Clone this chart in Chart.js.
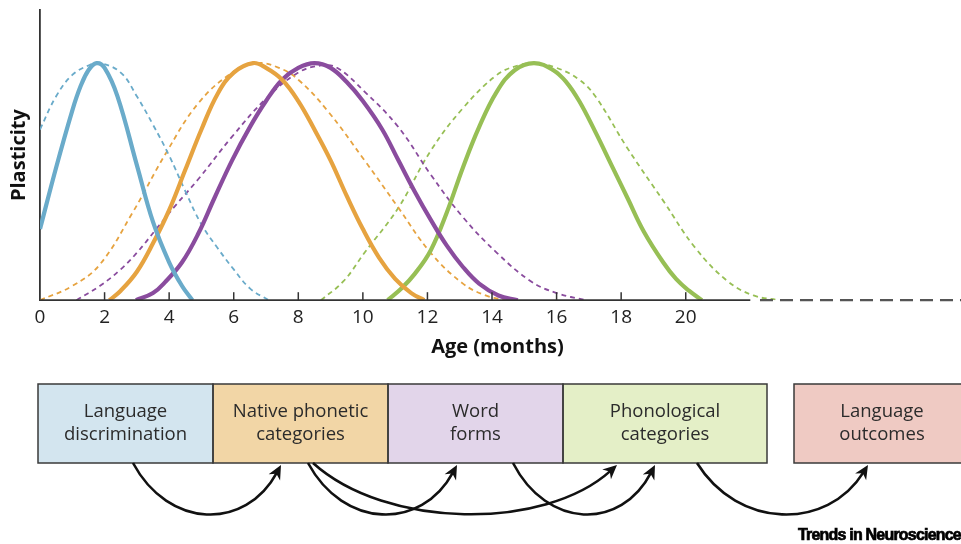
<!DOCTYPE html>
<html lang="en">
<head>
<meta charset="UTF-8" />
<title>Plasticity across infancy</title>
<style>
  html, body { margin: 0; padding: 0; background: #fff; }
  #wrap { width: 961px; height: 544px; }
</style>
</head>
<body>
<div id="wrap"><canvas id="plasticity" width="961" height="544"></canvas></div>
<script src="https://cdn.jsdelivr.net/npm/chart.js@4.4.0/dist/chart.umd.min.js"></script>
<script>
// curves: age (months) and plasticity relative to peak
const discrimSolidAge = [0, 0.5, 1, 1.25, 1.5, 1.75, 2, 2.4, 3, 3.5, 4, 4.4, 4.72];
const discrimSolidVal = [0.30, 0.56, 0.80, 0.90, 0.97, 1.0, 0.98, 0.86, 0.57, 0.33, 0.16, 0.06, 0];
const discrimDashAge = [0, 0.5, 1, 1.5, 1.85, 2.5, 3, 3.5, 4, 4.5, 5, 5.5, 6, 6.5, 7.08];
const discrimDashVal = [0.72, 0.86, 0.95, 0.99, 1.0, 0.96, 0.86, 0.74, 0.61, 0.46, 0.32, 0.22, 0.13, 0.05, 0];

const phoneticSolidAge = [2.15, 2.5, 3, 3.5, 4, 4.5, 5, 5.5, 6, 6.6, 7, 7.5, 8, 8.5, 9, 9.5, 10, 10.5, 11, 11.5, 11.9];
const phoneticSolidVal = [0, 0.04, 0.12, 0.24, 0.38, 0.55, 0.72, 0.87, 0.96, 1.0, 0.98, 0.93, 0.84, 0.72, 0.59, 0.44, 0.30, 0.18, 0.09, 0.03, 0];
const phoneticDashAge = [0, 1, 1.85, 2.87, 3.9, 4.9, 5.95, 6.7, 7.4, 8, 8.9, 10.05, 11.1, 12.1, 13.1, 13.8, 14.4];
const phoneticDashVal = [0, 0.06, 0.15, 0.37, 0.62, 0.83, 0.96, 1.0, 0.98, 0.93, 0.80, 0.59, 0.39, 0.20, 0.07, 0.02, 0];

const wordSolidAge = [2.97, 3.5, 3.9, 4.4, 4.9, 5.4, 5.95, 6.5, 7, 7.5, 8, 8.5, 9, 9.5, 10, 10.6, 11.1, 11.6, 12.1, 12.6, 13.1, 13.6, 14.2, 14.8];
const wordSolidVal = [0, 0.03, 0.08, 0.16, 0.28, 0.43, 0.59, 0.73, 0.84, 0.93, 0.98, 1.0, 0.98, 0.92, 0.84, 0.72, 0.59, 0.46, 0.34, 0.23, 0.14, 0.07, 0.02, 0];
const wordDashAge = [1.13, 1.85, 2.5, 3.0, 3.6, 4.2, 4.9, 5.95, 7.0, 8.0, 8.7, 9.2, 10.05, 11.1, 12.1, 13.1, 14.15, 15.2, 16.0, 16.9];
const wordDashVal = [0, 0.06, 0.13, 0.20, 0.30, 0.40, 0.51, 0.69, 0.85, 0.96, 0.99, 0.98, 0.88, 0.73, 0.53, 0.35, 0.20, 0.08, 0.03, 0];

const phonoSolidAge = [10.77, 11.2, 11.6, 12.1, 12.6, 13.1, 13.6, 14.15, 14.7, 15.3, 15.9, 16.3, 16.7, 17.2, 17.7, 18.2, 18.7, 19.3, 19.7, 20.1, 20.5];
const phonoSolidVal = [0, 0.05, 0.11, 0.21, 0.37, 0.56, 0.73, 0.88, 0.97, 1.0, 0.97, 0.92, 0.84, 0.71, 0.57, 0.43, 0.29, 0.16, 0.09, 0.04, 0];
const phonoDashAge = [8.7, 9.4, 10.05, 11.1, 12.1, 13.1, 14.15, 14.8, 15.3, 16.0, 16.7, 17.2, 18.2, 19.3, 20.3, 21.3, 22.1, 22.9];
const phonoDashVal = [0, 0.08, 0.20, 0.39, 0.63, 0.81, 0.95, 0.99, 1.0, 0.98, 0.93, 0.86, 0.64, 0.42, 0.22, 0.08, 0.02, 0];

const ageTicks = [0, 2, 4, 6, 8, 10, 12, 14, 16, 18, 20];
const stageLabels = [
  ['Language', 'discrimination'],
  ['Native phonetic', 'categories'],
  ['Word', 'forms'],
  ['Phonological', 'categories'],
  ['Language', 'outcomes']
];
// which stage feeds which (arrow from -> to)
const stageLinks = [[0, 1], [1, 2], [1, 3], [2, 3], [3, 4]];

const BLUE = '#6aabca', ORANGE = '#e6a340', PURPLE = '#8a4c9e', GREEN = '#97bf55';

function pts(ages, vals) {
  return ages.map((a, i) => ({ x: a, y: vals[i] }));
}
function solid(data, color) {
  return { data: data, borderColor: color, borderWidth: 4.2, pointRadius: 0, fill: false,
           tension: 0.4, borderCapStyle: 'butt' };
}
function dashed(data, color) {
  return { data: data, borderColor: color, borderWidth: 1.8, borderDash: [5, 4], pointRadius: 0,
           fill: false, tension: 0.4 };
}

// layout of the lower panel (pixels)
const boxTop = 384, boxBottom = 463;
const boxLeft = [38, 213, 388, 563, 794];
const boxRight = [213, 388, 563, 767, 978];
const boxFill = ['#d3e5ef', '#f2d6a6', '#e2d5ea', '#e4efc7', '#efcac3'];
const arrowFrom = { '0,1': 133, '1,2': 308, '1,3': 313, '2,3': 513, '3,4': 697 };
const arrowTo = { '0,1': 281, '1,2': 457, '1,3': 617, '2,3': 655, '3,4': 868 };

function drawArrow(ctx, x1, x2) {
  const y1 = boxBottom, y2 = boxBottom + 2;
  const d = x2 - x1, dip = 66;
  const c1x = x1 + d * 0.24, c1y = y1 + dip;
  const c2x = x2 - d * 0.24, c2y = y2 + dip;
  const ang = Math.atan2(y2 - c2y, x2 - c2x);
  const hl = 14, hw = 6.5;
  // stop the stroke inside the head
  const ex = x2 - Math.cos(ang) * hl * 0.6, ey = y2 - Math.sin(ang) * hl * 0.6;
  ctx.beginPath();
  ctx.moveTo(x1, y1);
  ctx.bezierCurveTo(c1x, c1y, c2x, c2y, ex, ey);
  ctx.lineWidth = 2.6;
  ctx.strokeStyle = '#111';
  ctx.stroke();
  const bx = x2 - Math.cos(ang) * hl, by = y2 - Math.sin(ang) * hl;
  const nx = -Math.sin(ang), ny = Math.cos(ang);
  const mx = x2 - Math.cos(ang) * hl * 0.7, my = y2 - Math.sin(ang) * hl * 0.7;
  ctx.beginPath();
  ctx.moveTo(x2, y2);
  ctx.lineTo(bx + nx * hw, by + ny * hw);
  ctx.lineTo(mx, my);
  ctx.lineTo(bx - nx * hw, by - ny * hw);
  ctx.closePath();
  ctx.fillStyle = '#111';
  ctx.fill();
}

const panelPlugin = {
  id: 'panel',
  afterDatasetsDraw(chart) {
    const ctx = chart.ctx;
    const xs = chart.scales.x;
    const y0 = chart.scales.y.getPixelForValue(0);
    ctx.save();
    // age axis: solid up to 22 months, dashed beyond
    ctx.strokeStyle = '#333';
    ctx.lineWidth = 1.8;
    ctx.beginPath();
    ctx.moveTo(xs.getPixelForValue(0), y0);
    ctx.lineTo(xs.getPixelForValue(22), y0);
    ctx.stroke();
    ctx.strokeStyle = '#555';
    ctx.lineWidth = 2.2;
    ctx.setLineDash([13, 7]);
    ctx.beginPath();
    ctx.moveTo(xs.getPixelForValue(22.3), y0);
    ctx.lineTo(chart.width, y0);
    ctx.stroke();
    ctx.setLineDash([]);
    // small inward tick marks
    ctx.strokeStyle = '#333';
    ctx.lineWidth = 1.5;
    ageTicks.forEach(v => {
      if (v === 0) return;
      const px = xs.getPixelForValue(v);
      ctx.beginPath();
      ctx.moveTo(px, y0);
      ctx.lineTo(px, y0 - 8);
      ctx.stroke();
    });
    ctx.restore();
  },
  afterDraw(chart) {
    const ctx = chart.ctx;
    ctx.save();
    // stage boxes
    stageLabels.forEach((lines, i) => {
      ctx.fillStyle = boxFill[i];
      ctx.fillRect(boxLeft[i], boxTop, boxRight[i] - boxLeft[i], boxBottom - boxTop);
    });
    ctx.strokeStyle = '#3a3a3a';
    ctx.lineWidth = 1.5;
    stageLabels.forEach((lines, i) => {
      ctx.strokeRect(boxLeft[i], boxTop, boxRight[i] - boxLeft[i], boxBottom - boxTop);
    });
    ctx.fillStyle = '#2b2b2b';
    ctx.font = '18.5px "Open Sans"';
    ctx.textAlign = 'center';
    ctx.textBaseline = 'middle';
    stageLabels.forEach((lines, i) => {
      const cx = (boxLeft[i] + Math.min(boxRight[i], 970)) / 2;
      ctx.fillText(lines[0], cx, 412);
      ctx.fillText(lines[1], cx, 435);
    });
    // arrows between stages
    stageLinks.forEach(l => {
      const key = l.join(',');
      drawArrow(ctx, arrowFrom[key], arrowTo[key]);
    });
    // journal credit
    ctx.fillStyle = '#000';
    ctx.strokeStyle = '#000';
    ctx.lineWidth = 0.7;
    ctx.font = 'bold 16px "Liberation Sans"';
    ctx.letterSpacing = '-0.8px';
    ctx.textAlign = 'left';
    ctx.textBaseline = 'alphabetic';
    ctx.fillText('Trends in Neurosciences', 798, 540);
    ctx.strokeText('Trends in Neurosciences', 798, 540);
    ctx.restore();
  }
};

new Chart(document.getElementById('plasticity'), {
  type: 'line',
  data: {
    datasets: [
      solid(pts(discrimSolidAge, discrimSolidVal), BLUE),
      solid(pts(phoneticSolidAge, phoneticSolidVal), ORANGE),
      solid(pts(wordSolidAge, wordSolidVal), PURPLE),
      solid(pts(phonoSolidAge, phonoSolidVal), GREEN),
      dashed(pts(discrimDashAge, discrimDashVal), BLUE),
      dashed(pts(phoneticDashAge, phoneticDashVal), ORANGE),
      dashed(pts(wordDashAge, wordDashVal), PURPLE),
      dashed(pts(phonoDashAge, phonoDashVal), GREEN)
    ]
  },
  options: {
    responsive: false,
    animation: false,
    events: [],
    layout: { padding: { left: 3, top: 10, right: 0, bottom: 185 } },
    plugins: { legend: { display: false }, tooltip: { enabled: false } },
    scales: {
      x: {
        type: 'linear',
        min: 0,
        max: 28.34,
        grid: { display: false, drawTicks: false },
        border: { display: false },
        ticks: {
          stepSize: 2,
          autoSkip: false,
          maxRotation: 0,
          padding: 6,
          color: '#222',
          font: { family: 'Open Sans', size: 19 },
          callback: v => ageTicks.includes(v) ? String(v) : ''
        },
        title: {
          display: true,
          text: 'Age (months)',
          color: '#111',
          padding: 0,
          font: { family: 'Open Sans', size: 20, weight: 'bold' }
        }
      },
      y: {
        min: 0,
        max: 1.224,
        grid: { display: false, drawTicks: false },
        border: { display: true, color: '#333', width: 1.8 },
        ticks: { display: false },
        title: {
          display: true,
          text: 'Plasticity',
          color: '#111',
          padding: { top: 4.5, bottom: 8.5 },
          font: { family: 'Open Sans', size: 20, weight: 'bold' }
        }
      }
    }
  },
  plugins: [panelPlugin]
});
</script>
</body>
</html>
